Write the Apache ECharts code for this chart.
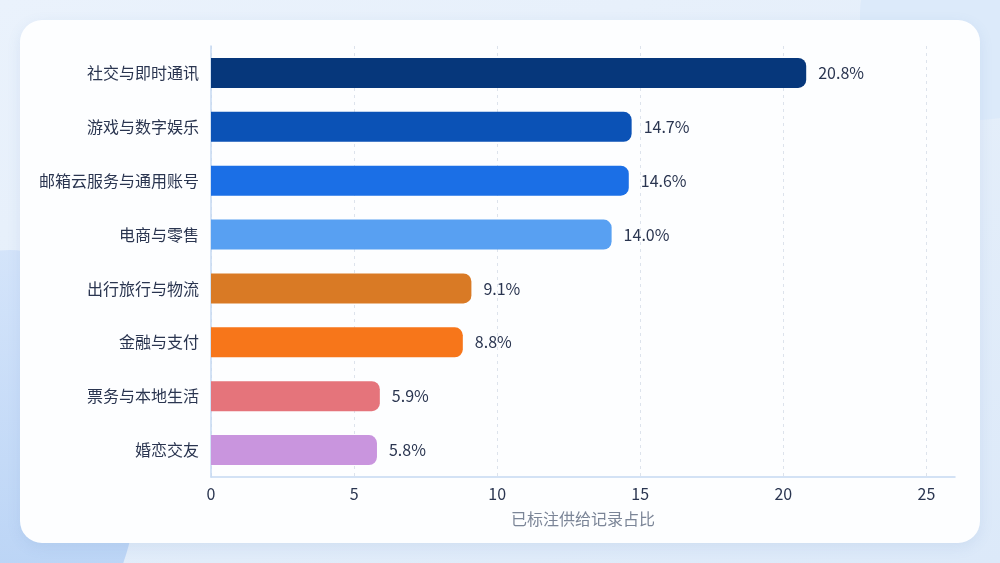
<!DOCTYPE html>
<html>
<head>
<meta charset="utf-8">
<script src="https://cdn.jsdelivr.net/npm/echarts@6/dist/echarts.min.js"></script>
<style>
  html, body { margin: 0; padding: 0; }
  body {
    width: 1000px; height: 563px; overflow: hidden; position: relative;
    background: linear-gradient(160deg, #eaf2fc 0%, #e4eefa 50%, #dce9f9 100%);
  }
  .blob1 {
    position: absolute; left: -120px; top: 250px; width: 260px; height: 420px;
    border-radius: 50%; background: linear-gradient(180deg, #cfe1fa, #a9c9f3);
    opacity: 0.8;
  }
  .blob2 {
    position: absolute; right: -60px; top: -60px; width: 200px; height: 180px;
    border-radius: 40%; background: #d9e8fa; opacity: 0.8;
  }
  .card {
    position: absolute; left: 20px; top: 20px; width: 960px; height: 523px;
    background: #fdfeff; border-radius: 22px;
    box-shadow: 0 4px 14px rgba(90, 130, 190, 0.12);
  }
  #chart { position: absolute; left: 0; top: 0; width: 1000px; height: 563px; }
</style>
</head>
<body>
<div class="blob1"></div>
<div class="blob2"></div>
<div class="card"></div>
<div id="chart"></div>
<script>
// 类别(从上到下)
var categories = ['社交与即时通讯', '游戏与数字娱乐', '邮箱云服务与通用账号', '电商与零售',
                  '出行旅行与物流', '金融与支付', '票务与本地生活', '婚恋交友'];
var shares = [20.8, 14.7, 14.6, 14.0, 9.1, 8.8, 5.9, 5.8];
var barColors = ['#06377b', '#0b52b6', '#1b6fe6', '#58a0f2', '#d97a25', '#f7761a', '#e5747b', '#c995de'];
var xTicks = [0, 5, 10, 15, 20, 25];
var axisTitle = '已标注供给记录占比';

var chart = echarts.init(document.getElementById('chart'));
var fontFam = '"Noto Sans CJK SC", "Noto Sans", sans-serif';

var option = {
    backgroundColor: 'transparent',
    textStyle: {fontFamily: fontFam},
    grid: {left: 211, right: 45, top: 46, bottom: 86},
    xAxis: {
        type: 'value',
        min: 0,
        max: 26,
        name: axisTitle,
        nameLocation: 'middle',
        nameGap: 34,
        nameTextStyle: {color: '#7b8597', fontSize: 16},
        axisLine: {show: true, lineStyle: {color: '#c5d9f2', width: 1.5}},
        axisTick: {show: false, customValues: xTicks},
        axisLabel: {customValues: xTicks, color: '#2a3550', fontSize: 16, margin: 9},
        splitLine: {show: true, lineStyle: {color: '#dde3ec', type: [3, 4], width: 1}}
    },
    yAxis: {
        type: 'category',
        inverse: true,
        data: categories,
        axisLine: {show: true, lineStyle: {color: '#c5d9f2', width: 1.5}},
        axisTick: {show: false},
        axisLabel: {color: '#2a3550', fontSize: 16, margin: 12}
    },
    series: [{
        type: 'bar',
        barWidth: 30,
        data: shares.map(function (v, i) {
            return {value: v, itemStyle: {color: barColors[i]}};
        }),
        itemStyle: {borderRadius: [0, 8, 8, 0]},
        label: {
            show: true,
            position: 'right',
            distance: 12,
            color: '#2a3550',
            fontSize: 16,
            formatter: function (p) { return p.value.toFixed(1) + '%'; }
        }
    }]
};
chart.setOption(option);
</script>
</body>
</html>
